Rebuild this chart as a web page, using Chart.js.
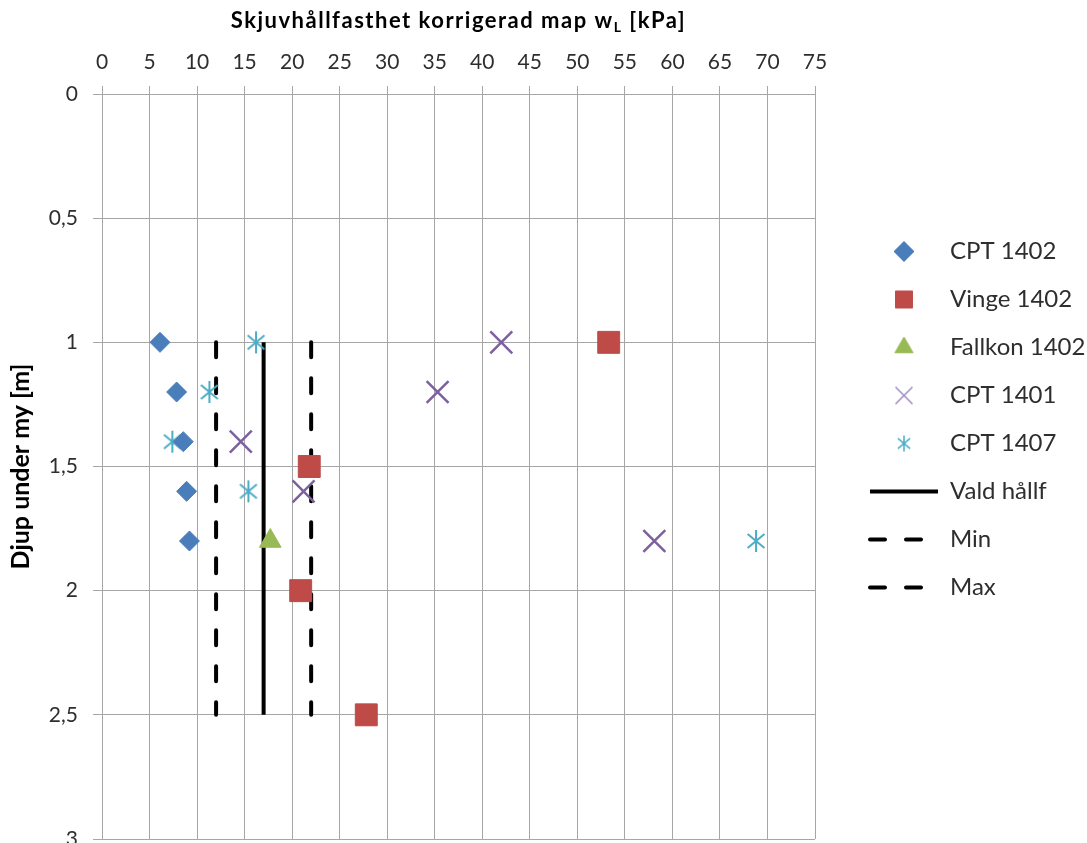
<!DOCTYPE html>
<html>
<head>
<meta charset="utf-8">
<script src="https://cdn.jsdelivr.net/npm/chart.js@4/dist/chart.umd.min.js"></script>
<style>
    html, body { margin: 0; padding: 0; background: #fff; overflow: hidden; }
    #wrap { width: 1087px; height: 843px; overflow: hidden; }
</style>
</head>
<body>
<div id="wrap">
    <canvas id="depthChart" width="1087" height="867"></canvas>
</div>
<script>
// x = skjuvhållfasthet [kPa], y = djup [m]
const xTickLabels = ["0", "5", "10", "15", "20", "25", "30", "35", "40", "45", "50", "55", "60", "65", "70", "75"];
const yTickLabels = ["0", "0,5", "1", "1,5", "2", "2,5", "3"];

const seriesNames = ["CPT 1402", "Vinge 1402", "Fallkon 1402", "CPT 1401", "CPT 1407", "Vald hållf", "Min", "Max"];

const cptDepth = [1, 1.2, 1.4, 1.6, 1.8];
const cpt1402 = [6.1, 7.85, 8.55, 8.9, 9.2];
const cpt1401 = [42.0, 35.3, 14.6, 21.2, 58.1];
const cpt1407 = [16.2, 11.3, 7.4, 15.4, 68.8];

const vingeDepth = [1, 1.5, 2, 2.5];
const vinge1402 = [53.3, 21.8, 20.9, 27.8];

const fallkonDepth = [1.8];
const fallkon1402 = [17.7];

const lineDepth = [1, 2.5];
const valdHallf = [17, 17];
const minHallf = [12, 12];
const maxHallf = [22, 22];

const BLUE = "#4a7ebb";
const RED = "#be4b48";
const GREEN = "#98b954";
const PURPLE = "#7d60a0";
const TEAL = "#4bacc6";
const GRID = "#a6a6a6";
const TEXT = "#2e2e2e";
const FONT = "Lato, 'Open Sans', sans-serif";

const LEGEND_SIZE = 24;
const LEGEND_PAD = 24;
const LEGEND_LINE = 68;
const LEGEND_LEFT = 846;
const PLOT_RIGHT = 815;

function pairs(xs, ys) {
    return xs.map((x, i) => ({ x: x, y: ys[i] }));
}

// Excel-style asterisk marker (vertical bar + X)
function makeStar(color, size, lw) {
    const c = document.createElement("canvas");
    c.width = size;
    c.height = size;
    const g = c.getContext("2d");
    const m = size / 2;
    const r = size / 2 - 1;
    const a = 50 * Math.PI / 180;
    const dx = r * Math.sin(a);
    const dy = r * Math.cos(a);
    g.strokeStyle = color;
    g.lineWidth = lw;
    g.beginPath();
    g.moveTo(m, m - r);
    g.lineTo(m, m + r);
    g.moveTo(m - dx, m - dy);
    g.lineTo(m + dx, m + dy);
    g.moveTo(m + dx, m - dy);
    g.lineTo(m - dx, m + dy);
    g.stroke();
    return c;
}

// small legend marker drawn with Chart.js's own point helper
function makeMarker(style, radius, fill, stroke, lw) {
    const size = Math.ceil(radius * 2 + 4);
    const c = document.createElement("canvas");
    c.width = size;
    c.height = size;
    const g = c.getContext("2d");
    g.fillStyle = fill;
    g.strokeStyle = stroke;
    g.lineWidth = lw;
    Chart.helpers.drawPoint(g, { pointStyle: style, radius: radius, rotation: 0, borderWidth: lw }, size / 2, size / 2);
    return c;
}

const starBig = makeStar(TEAL, 24, 2);
const starSmall = makeStar(TEAL, 18, 1.5);

const DASH = [15, 21];

const legendItems = [
    { fillStyle: BLUE, strokeStyle: BLUE, lineWidth: 1, pointStyle: makeMarker("rectRot", 10, BLUE, BLUE, 1) },
    { fillStyle: RED, strokeStyle: RED, lineWidth: 1, pointStyle: makeMarker("rect", 12, RED, RED, 1) },
    { fillStyle: GREEN, strokeStyle: GREEN, lineWidth: 1, pointStyle: makeMarker("triangle", 10.5, GREEN, GREEN, 1) },
    { fillStyle: PURPLE, strokeStyle: "#a08cc0", lineWidth: 1.5, pointStyle: makeMarker("crossRot", 12, "#a08cc0", "#a08cc0", 1.5) },
    { fillStyle: TEAL, strokeStyle: TEAL, lineWidth: 1.5, pointStyle: starSmall },
    { fillStyle: "#000", strokeStyle: "#000", lineWidth: 4, pointStyle: "line", lineCap: "butt" },
    { fillStyle: "#000", strokeStyle: "#000", lineWidth: 4, pointStyle: "line", lineCap: "round", lineDash: DASH },
    { fillStyle: "#000", strokeStyle: "#000", lineWidth: 4, pointStyle: "line", lineCap: "round", lineDash: DASH }
];

// axis title with subscript L, drawn above the top x axis
const topTitle = {
    id: "topTitle",
    afterDraw(chart) {
        const ctx = chart.ctx;
        const a = "Skjuvhållfasthet korrigerad map w";
        const sub = "L";
        const b = " [kPa]";
        const area = chart.chartArea;
        ctx.save();
        ctx.fillStyle = "#000";
        ctx.textBaseline = "alphabetic";
        ctx.letterSpacing = "1.5px";
        ctx.font = "bold 22px " + FONT;
        const wa = ctx.measureText(a).width;
        const wb = ctx.measureText(b).width;
        ctx.font = "bold 14px " + FONT;
        const ws = ctx.measureText(sub).width;
        let x = (area.left + area.right) / 2 - (wa + ws + wb) / 2;
        const y = 28;
        ctx.font = "bold 22px " + FONT;
        ctx.fillText(a, x, y);
        x += wa;
        ctx.font = "bold 14px " + FONT;
        ctx.fillText(sub, x, y + 4);
        x += ws;
        ctx.font = "bold 22px " + FONT;
        ctx.fillText(b, x, y);
        ctx.restore();
    }
};

const ctx = document.getElementById("depthChart").getContext("2d");

new Chart(ctx, {
    type: "scatter",
    data: {
        datasets: [
            {
                label: seriesNames[0],
                data: pairs(cpt1402, cptDepth),
                pointStyle: "rectRot",
                pointRadius: 10,
                backgroundColor: BLUE,
                borderColor: BLUE,
                borderWidth: 1
            },
            {
                label: seriesNames[1],
                data: pairs(vinge1402, vingeDepth),
                pointStyle: "rect",
                pointRadius: 15.5,
                backgroundColor: RED,
                borderColor: RED,
                borderWidth: 1
            },
            {
                label: seriesNames[2],
                data: pairs(fallkon1402, fallkonDepth),
                pointStyle: "triangle",
                pointRadius: 12.5,
                backgroundColor: GREEN,
                borderColor: GREEN,
                borderWidth: 1
            },
            {
                label: seriesNames[3],
                data: pairs(cpt1401, cptDepth),
                pointStyle: "crossRot",
                pointRadius: 15.5,
                backgroundColor: PURPLE,
                borderColor: PURPLE,
                borderWidth: 2.5
            },
            {
                label: seriesNames[4],
                data: pairs(cpt1407, cptDepth),
                pointStyle: starBig,
                backgroundColor: TEAL,
                borderColor: TEAL
            },
            {
                label: seriesNames[5],
                data: pairs(valdHallf, lineDepth),
                showLine: true,
                pointRadius: 0,
                borderColor: "#000",
                borderWidth: 4,
                borderCapStyle: "butt"
            },
            {
                label: seriesNames[6],
                data: pairs(minHallf, lineDepth),
                showLine: true,
                pointRadius: 0,
                borderColor: "#000",
                borderWidth: 4,
                borderDash: DASH,
                borderCapStyle: "round"
            },
            {
                label: seriesNames[7],
                data: pairs(maxHallf, lineDepth),
                showLine: true,
                pointRadius: 0,
                borderColor: "#000",
                borderWidth: 4,
                borderDash: DASH,
                borderCapStyle: "round"
            }
        ]
    },
    options: {
        responsive: false,
        animation: false,
        events: [],
        layout: {
            padding: { top: 0, left: 0, right: 0, bottom: 28 }
        },
        plugins: {
            tooltip: { enabled: false },
            legend: {
                position: "right",
                align: "center",
                // fixed width so the plot keeps 75 at 815px
                maxWidth: 1087 - LEGEND_LEFT,
                labels: {
                    usePointStyle: true,
                    pointStyleWidth: LEGEND_LINE,
                    boxHeight: 15,
                    padding: LEGEND_PAD,
                    color: TEXT,
                    font: { family: FONT, size: LEGEND_SIZE },
                    generateLabels() {
                        return seriesNames.map((name, i) => Object.assign({
                            text: name,
                            datasetIndex: i,
                            hidden: false,
                            fontColor: TEXT
                        }, legendItems[i]));
                    }
                }
            }
        },
        scales: {
            x: {
                type: "linear",
                position: "top",
                min: 0,
                max: 75,
                afterFit(scale) {
                    scale.height = 94;
                },
                ticks: {
                    stepSize: 5,
                    padding: 11,
                    color: TEXT,
                    font: { family: FONT, size: 21 },
                    maxRotation: 0,
                    callback: (v, i) => xTickLabels[Math.round(v / 5)]
                },
                grid: {
                    color: GRID,
                    tickColor: GRID,
                    tickLength: 8,
                    lineWidth: 1
                },
                border: { color: GRID }
            },
            y: {
                type: "linear",
                position: "left",
                reverse: true,
                min: 0,
                max: 3,
                afterFit(scale) {
                    scale.width = 102;
                },
                title: {
                    display: true,
                    text: "Djup under my [m]",
                    color: "#000",
                    font: { family: FONT, size: 25, weight: "bold" },
                    padding: { top: 6, bottom: 6 }
                },
                ticks: {
                    stepSize: 0.5,
                    padding: 15,
                    color: TEXT,
                    font: { family: FONT, size: 21 },
                    callback: (v, i) => yTickLabels[Math.round(v / 0.5)]
                },
                grid: {
                    color: GRID,
                    tickColor: GRID,
                    tickLength: 9,
                    lineWidth: 1
                },
                border: { color: GRID }
            },
            gap: {
                type: "linear",
                position: "right",
                display: true,
                min: 0,
                max: 1,
                afterFit(scale) {
                    scale.width = LEGEND_LEFT - PLOT_RIGHT;
                },
                ticks: { display: false },
                grid: { display: false, drawTicks: false },
                border: { display: false }
            }
        }
    },
    plugins: [topTitle]
});
</script>
</body>
</html>
